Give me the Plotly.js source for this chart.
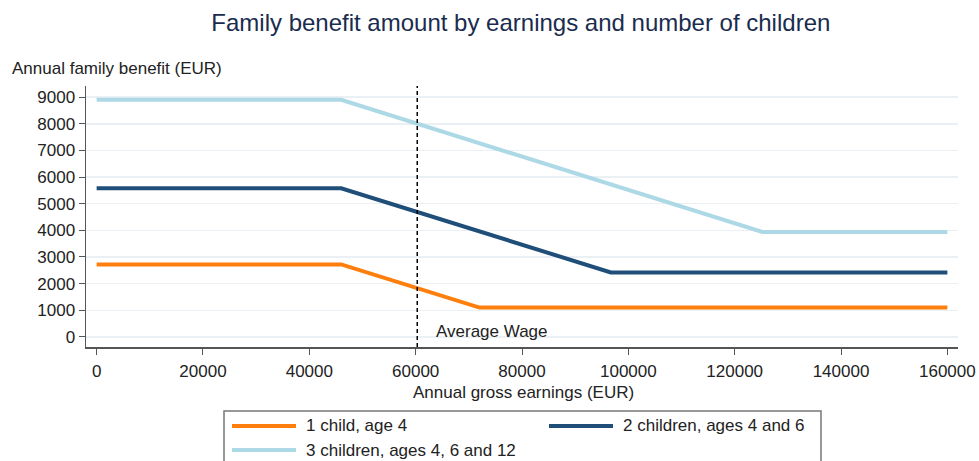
<!DOCTYPE html>
<html>
<head>
<meta charset="utf-8">
<script src="https://cdn.plot.ly/plotly-3.0.1.min.js"></script>
<style>html,body{margin:0;padding:0;background:#fff;}#chart{width:979px;height:461px;}</style>
</head>
<body>
<div id="chart"></div>
<script>
// Data
const seriesNames = ["1 child, age 4", "2 children, ages 4 and 6", "3 children, ages 4, 6 and 12"];
const seriesColors = ["#ff7f0e", "#1f4e79", "#add8e6"];
const oneChildX = [0, 46000, 72000, 160000];
const oneChildY = [2720, 2720, 1100, 1100];
const twoChildX = [0, 46000, 96700, 160000];
const twoChildY = [5580, 5580, 2420, 2420];
const threeChildX = [0, 46000, 125200, 160000];
const threeChildY = [8900, 8900, 3940, 3940];
const averageWage = 60300;
const xTicks = [0, 20000, 40000, 60000, 80000, 100000, 120000, 140000, 160000];
const yTicks = [0, 1000, 2000, 3000, 4000, 5000, 6000, 7000, 8000, 9000];

const font = "Liberation Sans, Arial, sans-serif";
const xs = [oneChildX, twoChildX, threeChildX];
const ys = [oneChildY, twoChildY, threeChildY];

const traces = xs.map((x, i) => ({
  x: x, y: ys[i], type: "scatter", mode: "lines", name: seriesNames[i],
  line: {color: seriesColors[i], width: 4}, showlegend: false, hoverinfo: "skip"
}));

// plot area in pixels: left 86, right 958, top 86, bottom 347
const L = 86, R = 958, T = 86, B = 347;
const px = v => (v - L) / (R - L);
const py = v => (B - v) / (B - T);

const shapes = [
  {type: "line", xref: "x", yref: "paper", x0: averageWage, x1: averageWage, y0: 0, y1: 1,
   line: {color: "#000", width: 1.5, dash: "4px,3px"}},
  {type: "rect", xref: "paper", yref: "paper", x0: px(224), x1: px(821), y0: py(411), y1: py(480),
   line: {color: "#777", width: 1.5}, fillcolor: "rgba(0,0,0,0)"}
];
const legendPos = [[232, 426], [549, 426], [232, 450]];
const annotations = [
  {xref: "x", yref: "paper", x: averageWage, y: py(331), xanchor: "left", yanchor: "middle",
   xshift: 17, text: "Average Wage", showarrow: false, font: {family: font, size: 17, color: "#222"}},
  {xref: "paper", yref: "paper", x: px(10), y: py(68), xanchor: "left", yanchor: "middle",
   text: "Annual family benefit (EUR)", showarrow: false, font: {family: font, size: 17, color: "#222"}},
  {xref: "paper", yref: "paper", x: px(523), y: py(392), xanchor: "center", yanchor: "middle",
   text: "Annual gross earnings (EUR)", showarrow: false, font: {family: font, size: 17, color: "#222"}}
];
seriesNames.forEach((n, i) => {
  const [lx, ly] = legendPos[i];
  shapes.push({type: "line", xref: "paper", yref: "paper", x0: px(lx), x1: px(lx + 64), y0: py(ly), y1: py(ly),
    line: {color: seriesColors[i], width: 4}});
  annotations.push({xref: "paper", yref: "paper", x: px(lx + 72), y: py(ly), xanchor: "left", yanchor: "middle",
    text: n, showarrow: false, font: {family: font, size: 17, color: "#222"}});
});

const layout = {
  width: 979, height: 461,
  margin: {l: L, r: 979 - R, t: T, b: 461 - B},
  paper_bgcolor: "#fff", plot_bgcolor: "#fff",
  title: {text: "Family benefit amount by earnings and number of children", x: 0.532, xanchor: "center",
          y: 0.952, yanchor: "middle", font: {family: font, size: 24, color: "#1a2c4e"}},
  xaxis: {range: [-2000, 162000], tickvals: xTicks, ticktext: xTicks.map(String),
          showgrid: false, zeroline: false, showline: true, linecolor: "#555", linewidth: 1.5,
          ticks: "outside", ticklen: 6, tickcolor: "#555", ticklabelstandoff: 2,
          tickfont: {family: font, size: 17, color: "#222"}},
  yaxis: {range: [-380, 9420], tickvals: yTicks, ticktext: yTicks.map(String),
          showgrid: true, gridcolor: "#eaf0f3", gridwidth: 1.5, zeroline: false,
          showline: true, linecolor: "#555", linewidth: 1.5,
          ticks: "outside", ticklen: 6, tickcolor: "#555", tickfont: {family: font, size: 17, color: "#222"}},
  shapes: shapes, annotations: annotations, showlegend: false
};

Plotly.newPlot("chart", traces, layout, {displayModeBar: false, staticPlot: true});
</script>
</body>
</html>
